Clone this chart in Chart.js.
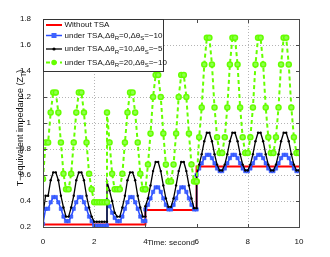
<!DOCTYPE html>
<html>
<head>
<meta charset="utf-8">
<script src="https://cdn.jsdelivr.net/npm/chart.js@4.4.1/dist/chart.umd.min.js"></script>
<style>
  html, body { margin: 0; padding: 0; background: #fff; }
  #wrap { width: 330px; height: 257px; position: relative; }
</style>
</head>
<body>
<div id="wrap"><canvas id="chart" width="330" height="257"></canvas></div>
<script>
// sample times (s); a repeated time is a switching instant
const time = [
  0, 0.1, 0.2, 0.3, 0.4, 0.5, 0.6, 0.7, 0.8, 0.9,
  1, 1.1, 1.2, 1.3, 1.4, 1.5, 1.6, 1.7, 1.8, 1.9,
  2, 2.1, 2.2, 2.3, 2.4, 2.5, 2.5, 2.6, 2.7, 2.8, 2.9,
  3, 3.1, 3.2, 3.3, 3.4, 3.5, 3.6, 3.7, 3.8, 3.9,
  4, 4, 4.1, 4.2, 4.3, 4.4, 4.5, 4.6, 4.7, 4.8, 4.9,
  5, 5.1, 5.2, 5.3, 5.4, 5.5, 5.6, 5.7, 5.8, 5.9,
  6, 6, 6.1, 6.2, 6.3, 6.4, 6.5, 6.6, 6.7, 6.8, 6.9,
  7, 7.1, 7.2, 7.3, 7.4, 7.5, 7.6, 7.7, 7.8, 7.9,
  8, 8.1, 8.2, 8.3, 8.4, 8.5, 8.6, 8.7, 8.8, 8.9,
  9, 9.1, 9.2, 9.3, 9.4, 9.5, 9.6, 9.7, 9.8, 9.9,
  10
];

// without TSA: piecewise constant
const noTsaTime = [0, 4, 4, 6, 6, 10];
const noTsa = [0.22, 0.22, 0.33, 0.33, 0.665, 0.665];

// under TSA, dθR=0, dθS=-10
const tsaR0 = [
  0.225, 0.34, 0.34, 0.39, 0.43, 0.43, 0.39, 0.34, 0.28, 0.245,
  0.245, 0.28, 0.34, 0.39, 0.43, 0.43, 0.39, 0.34, 0.28, 0.245,
  0.21, 0.21, 0.21, 0.21, 0.21, 0.21, 0.40, 0.36, 0.31, 0.27, 0.245,
  0.245, 0.28, 0.34, 0.39, 0.43, 0.43, 0.39, 0.34, 0.28, 0.245,
  0.245, 0.335, 0.37, 0.42, 0.47, 0.505, 0.505, 0.47, 0.42, 0.37, 0.335,
  0.335, 0.37, 0.42, 0.47, 0.505, 0.505, 0.47, 0.42, 0.37, 0.335,
  0.335, 0.60, 0.65, 0.69, 0.73, 0.755, 0.755, 0.73, 0.69, 0.65, 0.63,
  0.63, 0.65, 0.69, 0.73, 0.755, 0.755, 0.73, 0.69, 0.65, 0.63,
  0.63, 0.65, 0.69, 0.73, 0.755, 0.755, 0.73, 0.69, 0.65, 0.63,
  0.63, 0.65, 0.69, 0.73, 0.755, 0.755, 0.73, 0.69, 0.65, 0.63,
  0.63
];

// under TSA, dθR=10, dθS=-5
const tsaR10 = [
  0.30, 0.44, 0.44, 0.56, 0.62, 0.62, 0.56, 0.44, 0.35, 0.28,
  0.28, 0.35, 0.44, 0.56, 0.62, 0.62, 0.56, 0.44, 0.35, 0.28,
  0.24, 0.24, 0.24, 0.24, 0.24, 0.24, 0.55, 0.48, 0.40, 0.31, 0.28,
  0.28, 0.35, 0.44, 0.56, 0.62, 0.62, 0.56, 0.44, 0.35, 0.28,
  0.28, 0.36, 0.42, 0.52, 0.63, 0.70, 0.70, 0.63, 0.52, 0.42, 0.355,
  0.355, 0.42, 0.52, 0.63, 0.70, 0.70, 0.63, 0.52, 0.42, 0.345,
  0.345, 0.60, 0.68, 0.76, 0.86, 0.925, 0.925, 0.86, 0.76, 0.68, 0.635,
  0.635, 0.68, 0.76, 0.86, 0.925, 0.925, 0.86, 0.76, 0.68, 0.635,
  0.635, 0.68, 0.76, 0.86, 0.925, 0.925, 0.86, 0.76, 0.68, 0.635,
  0.635, 0.68, 0.76, 0.86, 0.925, 0.925, 0.86, 0.76, 0.68, 0.635,
  0.635
];

// under TSA, dθR=20, dθS=-10
const tsaR20 = [
  0.57, 0.85, 0.85, 1.08, 1.235, 1.235, 1.08, 0.85, 0.61, 0.49,
  0.49, 0.61, 0.85, 1.08, 1.235, 1.235, 1.08, 0.85, 0.61, 0.49,
  0.39, 0.39, 0.39, 0.39, 0.39, 0.39, 1.08, 0.85, 0.61, 0.49, 0.49,
  0.49, 0.61, 0.85, 1.08, 1.235, 1.235, 1.08, 0.85, 0.61, 0.49,
  0.49, 0.49, 0.68, 0.92, 1.20, 1.37, 1.37, 1.20, 0.92, 0.68, 0.55,
  0.55, 0.68, 0.92, 1.20, 1.37, 1.37, 1.20, 0.92, 0.68, 0.55,
  0.55, 0.55, 0.89, 1.12, 1.45, 1.655, 1.655, 1.45, 1.12, 0.89, 0.77,
  0.77, 0.89, 1.12, 1.45, 1.655, 1.655, 1.45, 1.12, 0.89, 0.77,
  0.77, 0.89, 1.12, 1.45, 1.655, 1.655, 1.45, 1.12, 0.89, 0.77,
  0.77, 0.89, 1.12, 1.45, 1.655, 1.655, 1.45, 1.12, 0.89, 0.77,
  0.77
];

// '_' puts the next character in subscript
const seriesNames = [
  'Without TSA',
  'under TSA,Δθ_R=0,Δθ_S=−10',
  'under TSA,Δθ_R=10,Δθ_S=−5',
  'under TSA,Δθ_R=20,Δθ_S=−10'
];
const xTicks = [0, 2, 4, 6, 8, 10];
const xTickLabels = ['0', '2', '4', '6', '8', '10'];
const yTicks = [0.2, 0.4, 0.6, 0.8, 1, 1.2, 1.4, 1.6, 1.8];
const yTickLabels = ['0.2', '0.4', '0.6', '0.8', '1', '1.2', '1.4', '1.6', '1.8'];
// grid lines that came out dark in earlier renders; left out
const xGridSkip = [4, 6];
const yGridSkip = [1.4];
const xTitle = 'Time: second';
const yTitle = 'T−equivalent impedance (Z_T)';

const FONT = '"Liberation Sans", Arial, Helvetica, sans-serif';
const RED = '#ff0000', BLUE = '#2a4dff', BLACK = '#000000', GREEN = '#66ff00';

const toPoints = (xs, ys) => xs.map((t, i) => ({ x: t, y: ys[i] }));

function drawRich(ctx, text, x, y, size, align) {
  const parts = [];
  for (let i = 0; i < text.length; i++) {
    if (text[i] === '_') { parts.push({ s: text[i + 1], sub: true }); i++; }
    else if (parts.length && !parts[parts.length - 1].sub) parts[parts.length - 1].s += text[i];
    else parts.push({ s: text[i], sub: false });
  }
  const subSize = Math.round(size * 0.75);
  let w = 0;
  parts.forEach(p => {
    ctx.font = (p.sub ? subSize : size) + 'px ' + FONT;
    p.w = ctx.measureText(p.s).width;
    w += p.w;
  });
  let cx = align === 'center' ? x - w / 2 : x;
  ctx.textAlign = 'left';
  ctx.textBaseline = 'middle';
  parts.forEach(p => {
    ctx.font = (p.sub ? subSize : size) + 'px ' + FONT;
    ctx.fillText(p.s, cx, y + (p.sub ? size * 0.4 : 0));
    cx += p.w;
  });
}

function seg(ctx, x1, y1, x2, y2) {
  ctx.beginPath();
  ctx.moveTo(x1, y1);
  ctx.lineTo(x2, y2);
  ctx.stroke();
}

// dotted grid under the data, drawn as single pixels
const gridPlugin = {
  id: 'dottedGrid',
  beforeDatasetsDraw(chart) {
    const { ctx, chartArea: a, scales: { x, y } } = chart;
    const top = Math.round(a.top), bottom = Math.round(a.bottom);
    const left = Math.round(a.left), right = Math.round(a.right);
    ctx.save();
    ctx.fillStyle = '#b4b4b4';
    xTicks.slice(1, -1).filter(v => !xGridSkip.includes(v)).forEach(v => {
      const px = Math.round(x.getPixelForValue(v));
      for (let py = top + 1; py < bottom; py += 3) ctx.fillRect(px, py, 1, 1);
    });
    yTicks.slice(1, -1).filter(v => !yGridSkip.includes(v)).forEach(v => {
      const py = Math.round(y.getPixelForValue(v));
      for (let px = left + 1; px < right; px += 3) ctx.fillRect(px, py, 1, 1);
    });
    ctx.restore();
  }
};

// axes box with inward ticks, boxed legend and titles on top
const framePlugin = {
  id: 'frame',
  afterDraw(chart) {
    const { ctx, chartArea: a, scales: { x, y } } = chart;
    const L = Math.round(a.left), R = Math.round(a.right);
    const T = Math.round(a.top), B = Math.round(a.bottom);
    ctx.save();
    ctx.fillStyle = '#4a4a4a';
    ctx.fillRect(L, T, R - L + 1, 1);
    ctx.fillRect(L, B, R - L + 1, 1);
    ctx.fillRect(L, T, 1, B - T + 1);
    ctx.fillRect(R, T, 1, B - T + 1);
    xTicks.forEach(v => {
      const px = Math.round(x.getPixelForValue(v));
      ctx.fillRect(px, B - 3, 1, 3);
      ctx.fillRect(px, T + 1, 1, 3);
    });
    yTicks.forEach(v => {
      const py = Math.round(y.getPixelForValue(v));
      ctx.fillRect(L + 1, py, 3, 1);
      ctx.fillRect(R - 3, py, 3, 1);
    });

    // legend box
    const lw = 120, lh = 52;
    ctx.fillStyle = '#fff';
    ctx.fillRect(L, T, lw, lh);
    ctx.fillStyle = '#333';
    ctx.fillRect(L, T, lw + 1, 1);
    ctx.fillRect(L, T + lh, lw + 1, 1);
    ctx.fillRect(L, T, 1, lh + 1);
    ctx.fillRect(L + lw, T, 1, lh + 1);

    const rows = [25, 35.5, 49, 62.5];
    const x0 = L + 3, x1 = L + 19, xm = (x0 + x1) / 2;
    rows.forEach((ry, i) => {
      ctx.setLineDash([]);
      if (i === 0) {
        ctx.strokeStyle = RED; ctx.lineWidth = 2;
        seg(ctx, x0, ry, x1, ry);
      } else if (i === 1) {
        ctx.strokeStyle = BLUE; ctx.lineWidth = 1.5;
        seg(ctx, x0, ry, x1, ry);
        ctx.fillStyle = '#3d62ff'; ctx.fillRect(xm - 2.5, ry - 2.5, 5, 5);
      } else if (i === 2) {
        ctx.strokeStyle = BLACK; ctx.lineWidth = 1.3;
        seg(ctx, x0, ry, x1, ry);
        ctx.fillStyle = BLACK;
        ctx.beginPath(); ctx.arc(xm, ry, 1.6, 0, Math.PI * 2); ctx.fill();
      } else {
        ctx.strokeStyle = GREEN; ctx.lineWidth = 2;
        ctx.setLineDash([4, 3]);
        seg(ctx, x0, ry, x1, ry);
        ctx.setLineDash([]);
        ctx.fillStyle = GREEN;
        ctx.beginPath(); ctx.arc(xm, ry, 2.7, 0, Math.PI * 2); ctx.fill();
      }
      ctx.fillStyle = '#111';
      drawRich(ctx, seriesNames[i], L + 21.5, ry, 8, 'left');
    });

    // axis titles
    ctx.fillStyle = '#111';
    drawRich(ctx, xTitle, (a.left + a.right) / 2, 243, 8, 'center');
    ctx.translate(20.5, 128);
    ctx.rotate(-Math.PI / 2);
    drawRich(ctx, yTitle, 0, 0, 9, 'center');
    ctx.restore();
  }
};

// first dataset is drawn on top
new Chart(document.getElementById('chart'), {
  type: 'line',
  data: {
    datasets: [
      {
        label: seriesNames[3], data: toPoints(time, tsaR20),
        borderColor: GREEN, borderWidth: 2, borderDash: [4, 3], pointStyle: 'circle', pointRadius: 2.5,
        pointBackgroundColor: '#8cff4d', pointBorderColor: GREEN, pointBorderWidth: 1.5
      },
      {
        label: seriesNames[2], data: toPoints(time, tsaR10),
        borderColor: BLACK, borderWidth: 1.3, pointStyle: 'circle', pointRadius: 1.2,
        pointBackgroundColor: BLACK, pointBorderColor: BLACK, pointBorderWidth: 0
      },
      {
        label: seriesNames[1], data: toPoints(time, tsaR0),
        borderColor: BLUE, borderWidth: 1.5, pointStyle: 'rect', pointRadius: 2.4,
        pointBackgroundColor: '#3d62ff', pointBorderColor: BLUE, pointBorderWidth: 0.5
      },
      {
        label: seriesNames[0], data: toPoints(noTsaTime, noTsa),
        borderColor: RED, borderWidth: 2, pointRadius: 0
      }
    ]
  },
  options: {
    responsive: false,
    animation: false,
    layout: { padding: { left: 0, top: 19, right: 31, bottom: 0 } },
    plugins: { legend: { display: false }, tooltip: { enabled: false } },
    scales: {
      x: {
        type: 'linear', min: 0, max: 10,
        afterBuildTicks: s => { s.ticks = xTicks.map(v => ({ value: v })); },
        afterFit: s => { s.height = 30; },
        grid: { display: false }, border: { display: false },
        ticks: {
          padding: 2, maxRotation: 0, color: '#111', font: { family: FONT, size: 8 },
          callback: v => xTickLabels[xTicks.indexOf(v)]
        }
      },
      y: {
        type: 'linear', min: 0.2, max: 1.8,
        afterBuildTicks: s => { s.ticks = yTicks.map(v => ({ value: v })); },
        afterFit: s => { s.width = 43; },
        grid: { display: false }, border: { display: false },
        ticks: {
          padding: 4, color: '#111', font: { family: FONT, size: 8 },
          callback: v => yTickLabels[yTicks.findIndex(t => Math.abs(t - v) < 1e-6)]
        }
      }
    }
  },
  plugins: [gridPlugin, framePlugin]
});
</script>
</body>
</html>
